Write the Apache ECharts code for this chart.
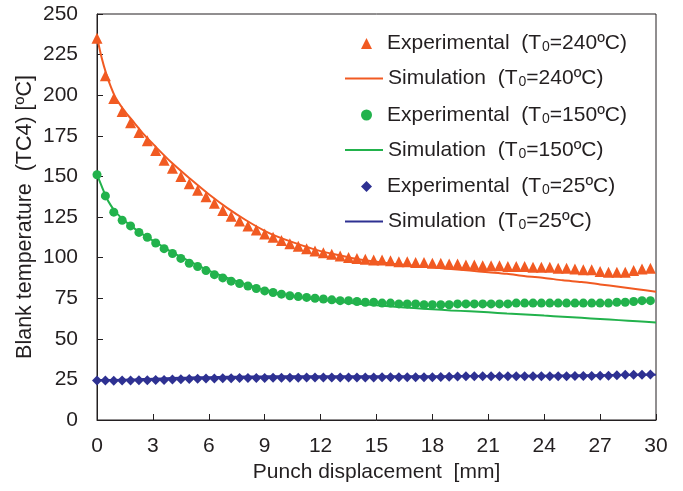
<!DOCTYPE html>
<html><head><meta charset="utf-8">
<script src="https://cdn.jsdelivr.net/npm/echarts@6/dist/echarts.min.js"></script>
<style>html,body{margin:0;padding:0;background:#fff}#c{width:683px;height:491px}</style>
</head><body><div id="c"></div>
<script>
const xTicks = [0,3,6,9,12,15,18,21,24,27,30];
const yTicks = [0,25,50,75,100,125,150,175,200,225,250];
const xExp = [0,0.45,0.9,1.35,1.8,2.25,2.7,3.15,3.6,4.05,4.5,4.95,5.4,5.85,6.3,6.75,7.2,7.65,8.1,8.55,9,9.45,9.9,10.35,10.8,11.25,11.7,12.15,12.6,13.05,13.5,13.95,14.4,14.85,15.3,15.75,16.2,16.65,17.1,17.55,18,18.45,18.9,19.35,19.8,20.25,20.7,21.15,21.6,22.05,22.5,22.95,23.4,23.85,24.3,24.75,25.2,25.65,26.1,26.55,27,27.45,27.9,28.35,28.8,29.25,29.7];
const exp240 = [235,212,198,190,183,177,172,166,160,155,
 150,145.5,141.5,137.5,133.5,129,125.5,122.5,119.5,117,
 114.5,112.5,110.5,108.5,107,105.5,104,103,102,101,
 100,99.5,99,98.5,98.5,98,97.5,97.5,97,97,
 96.5,96.5,96,96,95.5,95.5,95,95,95,94.5,
 94.5,94.5,94,94,94,93.5,93.5,93,92.5,92.5,
 91.5,91,91,91,92,93,93.5];
const exp150 = [151,138,128,123,119.5,115.5,112.5,109,105.5,102.5,
 99.5,96.5,94.5,92,89.5,87.5,85.5,84,82.5,81,
 79.5,78.5,77.5,76.5,76,75.5,75,74.5,74,73.5,
 73.5,73,72.5,72.5,72,72,71.5,71.5,71.5,71,
 71,71,71,71.5,71.5,71.5,71.5,71.5,71.5,71.5,
 72,72,72,72,72,72,72,72,72,72,
 72,72,72.5,72.5,73,73.5,73.5];
const exp25 = [24.3,24.3,24.2,24.3,24.3,24.4,24.4,24.6,24.7,24.9,
 25.1,25.2,25.4,25.5,25.6,25.7,25.7,25.8,25.8,25.9,
 25.9,26,26,26,26,26.1,26.1,26.1,26.1,26.2,
 26.2,26.2,26.2,26.2,26.3,26.3,26.3,26.3,26.3,26.3,
 26.4,26.5,26.6,26.8,27,27,27,27,27,27,
 27,27,27,27,27,27,27,27.1,27.1,27.1,
 27.2,27.3,27.6,27.8,27.8,27.9,28];
const xSim = [0,0.25,0.5,0.75,1,1.5,2,2.5,3,4,5,6,7,8,9,10,11,12,13,14,15,16,17,18,19,20,21,22,23,24,25,26,27,28,29,30];
const sim240 = [236,223,213,205,198.5,190,183,176,170,
 158.5,148.5,139,130.5,123,116.5,111.5,107.5,104,101.5,
 99,97.5,96,95,94,93,92,91,90,88.5,
 87.5,86,85,83.5,82,80.5,79];
const sim150 = [151,144,137,132,128,122.5,118,114,110.5,
 103.5,97.5,92,87.5,83.5,80,77.5,75.5,74,72.8,
 71.6,70.6,69.7,68.9,68.2,67.5,66.9,66.3,65.6,65,
 64.3,63.6,62.9,62.2,61.5,60.8,60];
const sim25 = [24.5,24.5,24.6,24.6,24.7,24.8,25,25.2,25.4,
 25.8,26.1,26.4,26.6,26.8,26.9,27,27,27,27,
 27,27,27,27,27,27,27.1,27.1,27.2,27.2,
 27.3,27.4,27.5,27.6,27.7,27.8,27.9];
const legendLabels = {
  'exp240': ['Experimental  (T', '=240ºC)'],
  'sim240': ['Simulation  (T', '=240ºC)'],
  'exp150': ['Experimental  (T', '=150ºC)'],
  'sim150': ['Simulation  (T', '=150ºC)'],
  'exp25': ['Experimental  (T', '=25ºC)'],
  'sim25': ['Simulation  (T', '=25ºC)']
};
const C_OR = '#F15A22', C_GR = '#22B24C', C_BL = '#2E3192';
const FONT = 'Liberation Sans, Arial, sans-serif';
const TXT = '#231F20';
function pairs(xs, ys){ return xs.map((x,i)=>[x, ys[i]]); }
const chart = echarts.init(document.getElementById('c'), null, {renderer:'canvas'});
function legendText(padLeft){
  return {
    fontFamily: FONT, fontSize: 21, color: TXT,
    rich: {
      f: { fontFamily: FONT, fontSize: 21, color: TXT, padding: [0,0,0,padLeft] },
      s: { fontFamily: FONT, fontSize: 14, color: TXT, padding: [8,0,0,1] },
      n: { fontFamily: FONT, fontSize: 21, color: TXT }
    }
  };
}
const fmt = name => { const p = legendLabels[name]; return '{f|' + p[0] + '}{s|0}{n|' + p[1] + '}'; };
chart.setOption({
  animation: false,
  backgroundColor: '#fff',
  textStyle: { fontFamily: FONT },
  grid: { left: 97, right: 27, top: 14, bottom: 71, show: true, borderColor: TXT, borderWidth: 1 },
  xAxis: {
    type: 'value', min: xTicks[0], max: xTicks[xTicks.length-1], interval: 3,
    name: 'Punch displacement  [mm]', nameLocation: 'middle', nameGap: 42,
    nameTextStyle: { fontSize: 21, color: TXT, fontFamily: FONT },
    axisLine: { lineStyle: { color: TXT, width: 1 } },
    axisTick: { inside: true, length: 6, lineStyle: { color: TXT } },
    axisLabel: { fontSize: 21, color: TXT, margin: 16, fontFamily: FONT },
    splitLine: { show: false }
  },
  yAxis: {
    type: 'value', min: yTicks[0], max: yTicks[yTicks.length-1], interval: 25,
    name: 'Blank temperature  (TC4) [ºC]', nameLocation: 'middle', nameGap: 61,
    nameMoveOverlap: false,
    nameTextStyle: { fontSize: 21.5, color: TXT, fontFamily: FONT },
    axisLine: { show: true, lineStyle: { color: TXT, width: 1 } },
    axisTick: { show: true, inside: true, length: 6, lineStyle: { color: TXT } },
    axisLabel: { fontSize: 21, color: TXT, margin: 19, fontFamily: FONT },
    splitLine: { show: false }
  },
  legend: [
    { data: [{name:'exp240', icon:'triangle'},{name:'exp150', icon:'circle'},{name:'exp25', icon:'diamond'}],
      orient: 'vertical', left: 356, top: 28,
      itemWidth: 11, itemHeight: 11, itemGap: 50, formatter: fmt, textStyle: legendText(10), selectedMode: false },
    { data: [{name:'sim240', icon:'rect'},{name:'sim150', icon:'rect'},{name:'sim25', icon:'rect'}],
      orient: 'vertical', left: 340, top: 63,
      itemWidth: 38, itemHeight: 2, itemGap: 50, formatter: fmt, textStyle: legendText(0), selectedMode: false }
  ],
  series: [
    { name: 'sim240', type: 'line', data: pairs(xSim, sim240), symbol: 'none', smooth: 0.3, lineStyle: { color: C_OR, width: 2 }, itemStyle: {color: C_OR}, z: 2 },
    { name: 'sim150', type: 'line', data: pairs(xSim, sim150), symbol: 'none', smooth: 0.3, lineStyle: { color: C_GR, width: 2 }, itemStyle: {color: C_GR}, z: 2 },
    { name: 'sim25', type: 'line', data: pairs(xSim, sim25), symbol: 'none', smooth: 0.3, lineStyle: { color: C_BL, width: 2 }, itemStyle: {color: C_BL}, z: 2 },
    { name: 'exp240', type: 'scatter', data: pairs(xExp, exp240), symbol: 'triangle', symbolSize: 11, itemStyle: { color: C_OR, opacity: 1 }, z: 3 },
    { name: 'exp150', type: 'scatter', data: pairs(xExp, exp150), symbol: 'circle', symbolSize: 9, itemStyle: { color: C_GR, opacity: 1 }, z: 3 },
    { name: 'exp25', type: 'scatter', data: pairs(xExp, exp25), symbol: 'diamond', symbolSize: 10, itemStyle: { color: C_BL, opacity: 1 }, z: 3 }
  ]
});
</script></body></html>
